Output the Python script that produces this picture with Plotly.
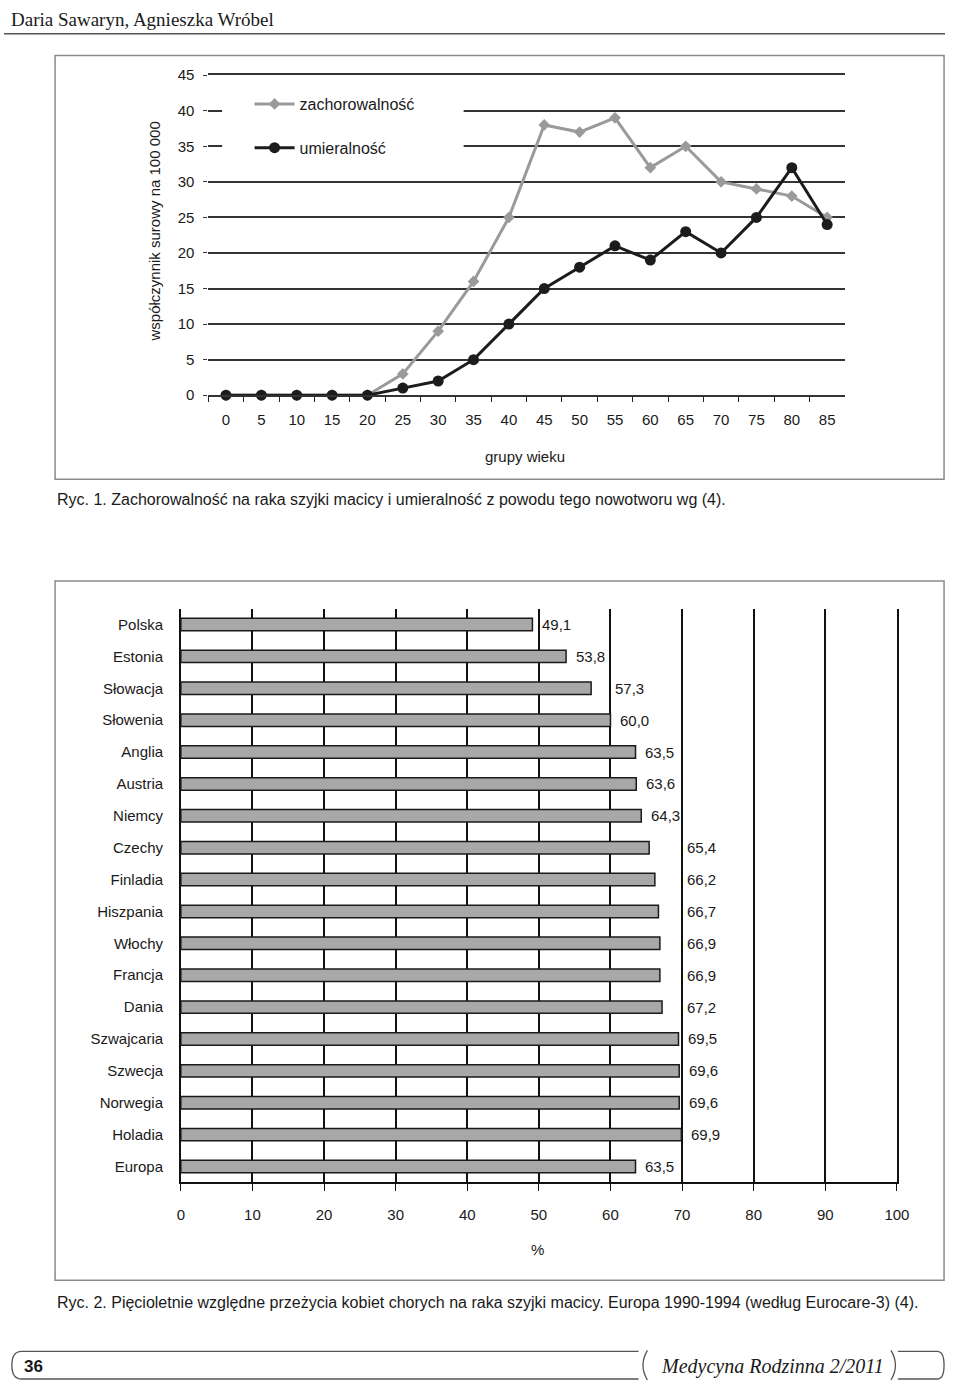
import math
import plotly.graph_objects as go

# ---------------- data ----------------
age_groups = ["0", "5", "10", "15", "20", "25", "30", "35", "40", "45",
              "50", "55", "60", "65", "70", "75", "80", "85"]
zachorowalnosc = [0, 0, 0, 0, 0, 3, 9, 16, 25, 38, 37, 39, 32, 35, 30, 29, 28, 25]
umieralnosc = [0, 0, 0, 0, 0, 1, 2, 5, 10, 15, 18, 21, 19, 23, 20, 25, 32, 24]

countries = ["Polska", "Estonia", "Słowacja", "Słowenia", "Anglia", "Austria",
             "Niemcy", "Czechy", "Finladia", "Hiszpania", "Włochy", "Francja",
             "Dania", "Szwajcaria", "Szwecja", "Norwegia", "Holadia", "Europa"]
survival = [49.1, 53.8, 57.3, 60.0, 63.5, 63.6, 64.3, 65.4, 66.2, 66.7,
            66.9, 66.9, 67.2, 69.5, 69.6, 69.6, 69.9, 63.5]

W, H = 960, 1389
FONT = "Liberation Sans, Arial, sans-serif"
SERIF = "Liberation Serif, Times New Roman, serif"


def px(x):
    return x / W


def py(y):
    return 1 - y / H


fig = go.Figure()

fig.add_trace(go.Scatter(
    x=age_groups, y=zachorowalnosc, mode="lines+markers", name="zachorowalność",
    line=dict(color="#9a9a9a", width=3),
    marker=dict(symbol="diamond", size=9, color="#9a9a9a"),
    legendgroup="a", cliponaxis=False, xaxis="x", yaxis="y"))
fig.add_trace(go.Scatter(
    x=age_groups, y=umieralnosc, mode="lines+markers", name="umieralność",
    line=dict(color="#1c1c1c", width=3),
    marker=dict(symbol="circle", size=11, color="#1c1c1c"),
    legendgroup="b", cliponaxis=False, xaxis="x", yaxis="y"))

fig.add_trace(go.Bar(
    x=survival, y=countries, orientation="h", width=0.39,
    marker=dict(color="#a8a8a8", line=dict(color="#1a1a1a", width=1.5)),
    showlegend=False, xaxis="x2", yaxis="y2", hoverinfo="x+y"))

annotations = []
LABEL_W = 4.2  # approximate label width in axis units
for c, v in zip(countries, survival):
    left = v + 1.3
    # keep the label clear of the vertical gridlines
    if math.floor((left + LABEL_W) / 10) > math.floor(left / 10):
        left = math.ceil(left / 10) * 10 + 0.6
    annotations.append(dict(
        x=left + LABEL_W / 2, y=c, xref="x2", yref="y2", text=f"{v:.1f}".replace(".", ","),
        showarrow=False, xanchor="center", yanchor="middle",
        font=dict(family=FONT, size=15, color="#1a1a1a")))


def ann(x, y, text, size=15, anchor="center", family=FONT, angle=0, color="#1a1a1a"):
    annotations.append(dict(
        x=px(x), y=py(y), xref="paper", yref="paper", text=text, showarrow=False,
        xanchor=anchor, yanchor="middle", textangle=angle,
        font=dict(family=family, size=size, color=color)))


ann(5, 11, "Daria Sawaryn, Agnieszka Wróbel", size=19, anchor="left", family=SERIF)
ann(153, 225, "współczynnik surowy na 100 000", size=15, angle=-90)
ann(530, 453, "grupy wieku", size=15)
ann(52, 497, "Ryc. 1. Zachorowalność na raka szyjki macicy i umieralność z powodu tego nowotworu wg (4).",
    size=16, anchor="left")
ann(543, 1256, "%", size=15)
ann(52, 1310, "Ryc. 2. Pięcioletnie względne przeżycia kobiet chorych na raka szyjki macicy. Europa 1990-1994 (według Eurocare-3) (4).",
    size=16, anchor="left")
ann(18, 1374, "<b>36</b>", size=17, anchor="left")
ann(667, 1374, "<i>Medycyna Rodzinna 2/2011</i>", size=20, anchor="left", family=SERIF)

shapes = []
# header rule
shapes.append(dict(type="line", xref="paper", yref="paper", x0=0, x1=px(958), y0=py(25), y1=py(25),
                   line=dict(color="#555555", width=1.5)))
# chart frames
for (x0, y0, x1, y1) in [(52, 47, 957, 476), (52, 579, 957, 1287)]:
    shapes.append(dict(type="rect", xref="paper", yref="paper", x0=px(x0), x1=px(x1),
                       y0=py(y1), y1=py(y0), line=dict(color="#8a8a8a", width=1.5),
                       fillcolor="rgba(0,0,0,0)"))
# white area behind legend (covers gridlines, under traces)
shapes.append(dict(type="rect", xref="x", yref="y", x0=-0.11, x1=6.72, y0=32.1, y1=43.2,
                   fillcolor="white", line=dict(width=0), layer="between"))


def P(x, y):
    return f"{px(x):.5f},{py(y):.5f}"


# footer strip
fl = dict(color="#555555", width=1.3)
shapes.append(dict(type="path", xref="paper", yref="paper",
                   path=f"M {P(646,1359)} L {P(18,1359)} Q {P(8,1359)} {P(8,1373)} Q {P(8,1387)} {P(18,1387)} L {P(646,1387)}",
                   line=fl))
shapes.append(dict(type="path", xref="paper", yref="paper",
                   path=f"M {P(655,1358)} Q {P(646,1373)} {P(655,1388)}", line=fl))
shapes.append(dict(type="path", xref="paper", yref="paper",
                   path=f"M {P(903,1358)} Q {P(912,1373)} {P(903,1388)}", line=fl))
shapes.append(dict(type="path", xref="paper", yref="paper",
                   path=f"M {P(910,1359)} L {P(950,1359)} Q {P(957,1359)} {P(957,1373)} Q {P(957,1387)} {P(950,1387)} L {P(910,1387)}",
                   line=fl))

fig.update_layout(
    width=W, height=H,
    margin=dict(l=0, r=0, t=0, b=0),
    paper_bgcolor="white", plot_bgcolor="white",
    font=dict(family=FONT, size=15, color="#1a1a1a"),
    showlegend=True,
    legend=dict(x=px(250), y=py(79), xanchor="left", yanchor="top",
                bgcolor="rgba(0,0,0,0)", font=dict(family=FONT, size=16, color="#1a1a1a"),
                tracegroupgap=20, itemwidth=40),
    xaxis=dict(domain=[px(208), px(856)], anchor="y", type="category",
               range=[-0.5, 17.5], tickson="boundaries", ticks="outside", ticklen=5,
               tickcolor="#222222", showline=True, mirror=True, linecolor="#333333",
               linewidth=1.5, showgrid=False, zeroline=False, tickfont=dict(size=15),
               ticklabelstandoff=10, fixedrange=True),
    yaxis=dict(domain=[py(391), py(67)], anchor="x", range=[0, 45], dtick=5,
               showgrid=True, gridcolor="#333333", gridwidth=1.5, ticks="outside",
               ticklen=4, tickcolor="#333333", showline=False, zeroline=False,
               tickfont=dict(size=15), ticklabelstandoff=6, fixedrange=True),
    xaxis2=dict(domain=[px(180), px(909)], anchor="y2", range=[0, 100], dtick=10,
                showgrid=True, gridcolor="#111111", gridwidth=1.5, ticks="outside",
                ticklen=7, tickcolor="#111111", showline=True, linecolor="#111111",
                linewidth=1.5, zeroline=False, tickfont=dict(size=15),
                ticklabelstandoff=11, fixedrange=True),
    yaxis2=dict(domain=[py(1188), py(607)], anchor="x2", type="category",
                range=[17.5, -0.5], showgrid=False, ticks="", showline=True, mirror=True,
                linecolor="#111111", linewidth=1.5,
                zeroline=False, tickfont=dict(size=15), ticklabelstandoff=13,
                fixedrange=True),
    annotations=annotations,
    shapes=shapes,
)

fig.write_html("out.html")
